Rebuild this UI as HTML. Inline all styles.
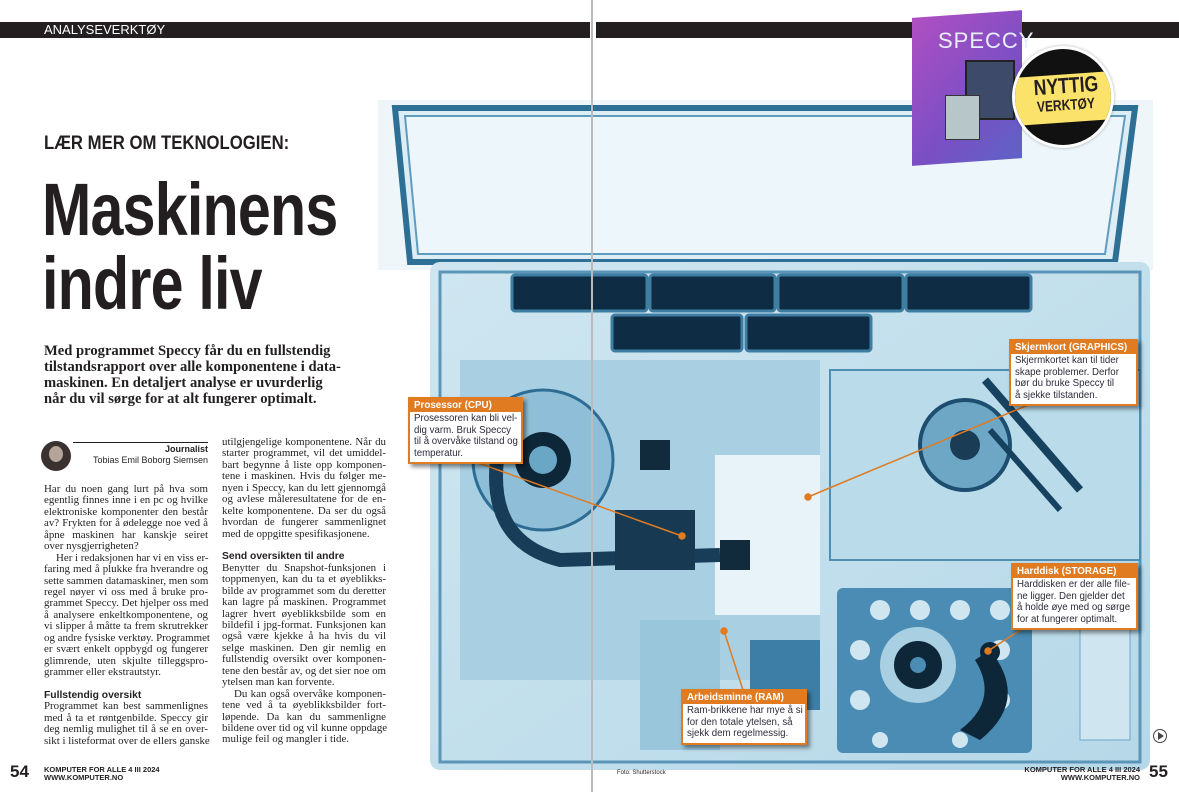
<!DOCTYPE html>
<html><head><meta charset="utf-8">
<style>
*{margin:0;padding:0;box-sizing:border-box}
body{width:1179px;height:792px;position:relative;overflow:hidden;background:#fff;font-family:"Liberation Sans",sans-serif;color:#231f20}
.abs{position:absolute}
.body{font-family:"Liberation Serif",serif;font-size:10.9px;color:#231f20}
.body div{white-space:nowrap;height:11.45px;line-height:11.45px;text-align:justify;text-align-last:justify}
.body div.e{text-align-last:left}
.body div.i{padding-left:12px}
.body div.h{font-family:"Liberation Sans",sans-serif;font-weight:bold;font-size:10.3px;text-align-last:left}
.call{position:absolute;background:#fff;border:2px solid #e07b22;box-shadow:3px 3px 4px rgba(0,0,0,.45);font-size:9.7px;line-height:11.6px;color:#2b2b3a;white-space:nowrap;overflow:hidden}
.call .h{background:#e07b22;color:#fff;font-weight:bold;font-size:9.8px;padding:0 4px;height:13px;line-height:13px}
.call .t{padding:1px 4px 3px 4px}
.sub div{white-space:nowrap}
</style></head><body>

<svg class="abs" style="left:0;top:0" width="1179" height="792">
<defs>
<linearGradient id="bg" x1="0" y1="0" x2="1" y2="1"><stop offset="0" stop-color="#cfe6f1"/><stop offset="1" stop-color="#b6d8e8"/></linearGradient>
</defs>
<rect x="378" y="100" width="775" height="170" fill="#eef6fa"/>
<polygon points="395,108 1135,108 1115,262 410,262" fill="#dcedf5" stroke="#2e6f95" stroke-width="6"/>
<polygon points="405,116 1125,116 1105,254 418,254" fill="#edf6fa" stroke="#5f9cbd" stroke-width="2"/>
<rect x="430" y="262" width="720" height="508" rx="10" fill="url(#bg)"/>
<rect x="440" y="272" width="700" height="490" fill="none" stroke="#5b96b8" stroke-width="3"/>
<g fill="#0f2c45" stroke="#3f7ea3" stroke-width="3">
<rect x="512" y="275" width="135" height="36" rx="3"/><rect x="650" y="275" width="125" height="36" rx="3"/><rect x="778" y="275" width="125" height="36" rx="3"/><rect x="906" y="275" width="125" height="36" rx="3"/>
<rect x="612" y="315" width="130" height="36" rx="3"/><rect x="746" y="315" width="125" height="36" rx="3"/>
</g>
<rect x="460" y="360" width="360" height="320" fill="#a9cfe2"/>
<rect x="715" y="455" width="105" height="160" fill="#e7f3f8"/>
<circle cx="543" cy="460" r="70" fill="#8fbfd8" stroke="#2d6d94" stroke-width="3"/>
<circle cx="543" cy="460" r="28" fill="#0d2638"/>
<circle cx="543" cy="460" r="14" fill="#6aa7c7"/>
<path d="M500 440 Q480 540 560 560 L720 555" fill="none" stroke="#173d58" stroke-width="14"/>
<rect x="615" y="510" width="80" height="60" fill="#173a52"/>
<rect x="640" y="440" width="30" height="30" fill="#112a3c"/>
<rect x="720" y="540" width="30" height="30" fill="#112a3c"/>
<rect x="830" y="370" width="310" height="190" fill="#b9dbea" stroke="#4f8db1" stroke-width="2"/>
<circle cx="965" cy="445" r="45" fill="#6ea7c6" stroke="#1d4e6f" stroke-width="4"/>
<circle cx="965" cy="445" r="15" fill="#1a3c55"/>
<line x1="985" y1="380" x2="1080" y2="490" stroke="#17425f" stroke-width="8"/>
<line x1="990" y1="430" x2="1060" y2="510" stroke="#17425f" stroke-width="6"/>
<rect x="837" y="588" width="195" height="165" rx="6" fill="#4a8cb3"/>
<g fill="#cfe6f1"><circle cx="880" cy="610" r="10"/><circle cx="920" cy="610" r="10"/><circle cx="960" cy="610" r="10"/><circle cx="1000" cy="610" r="10"/><circle cx="860" cy="650" r="10"/><circle cx="1000" cy="650" r="10"/><circle cx="860" cy="700" r="10"/><circle cx="1000" cy="700" r="10"/><circle cx="880" cy="740" r="8"/><circle cx="960" cy="740" r="8"/></g>
<circle cx="918" cy="665" r="38" fill="#a9cfe2"/>
<circle cx="918" cy="665" r="24" fill="#0d2638"/>
<circle cx="918" cy="665" r="8" fill="#4a8cb3"/>
<path d="M990 650 Q1030 700 980 740 L960 730 Q1000 700 975 660Z" fill="#0d2638"/>
<circle cx="990" cy="652" r="10" fill="#0d2638"/>
<rect x="640" y="620" width="80" height="130" fill="#9ac6dc"/>
<rect x="750" y="640" width="70" height="70" fill="#3c7ea6"/>
<rect x="1080" y="580" width="50" height="160" fill="#cfe6f1" stroke="#6fa7c6"/>
</svg>

<div class="abs" style="left:0;top:22px;width:590px;height:16px;background:#231f20"></div>
<div class="abs" style="left:596px;top:22px;width:583px;height:16px;background:#231f20"></div>
<div class="abs" style="left:44px;top:22px;height:16px;line-height:16px;color:#fff;font-size:13px">ANALYSEVERKTØY</div>
<div class="abs" style="left:591px;top:0;width:2px;height:792px;background:#bbb"></div>

<div class="abs" style="left:912px;top:14px;width:110px;height:148px;background:linear-gradient(135deg,#b04fc2,#7a4fc4 60%,#5e63c7);transform:skewY(-4deg)"></div>
<div class="abs" style="left:938px;top:28px;color:#e8f0ff;font-size:22px;letter-spacing:1px">SPECCY</div>
<div class="abs" style="left:965px;top:60px;width:50px;height:60px;background:#3d4a6a;border:2px solid #222"></div>
<div class="abs" style="left:945px;top:95px;width:35px;height:45px;background:#b7c6c8;border:1px solid #333"></div>
<div class="abs" style="left:1012px;top:46px;width:102px;height:102px;border-radius:50%;background:#111;border:3px solid #fff;overflow:hidden;box-shadow:0 0 3px rgba(0,0,0,.3)">
<div style="position:absolute;left:-10px;top:25px;width:130px;height:48px;background:#fbe36b;transform:rotate(-4deg)"></div>
<div style="position:absolute;left:8px;top:26px;width:86px;text-align:center;font-weight:bold;font-size:22px;line-height:22px;transform:rotate(-4deg) scaleX(.8)">NYTTIG</div>
<div style="position:absolute;left:8px;top:49px;width:86px;text-align:center;font-weight:bold;font-size:15px;line-height:16px;transform:rotate(-4deg) scaleX(.8)">VERKTØY</div>
</div>

<div class="abs" style="left:44px;top:133px;font-weight:bold;font-size:19px;transform:scaleX(.88);transform-origin:0 0;white-space:nowrap">LÆR MER OM TEKNOLOGIEN:</div>
<div class="abs" style="left:42px;top:173px;font-weight:bold;font-size:74px;line-height:74px;transform:scaleX(.8);transform-origin:0 0;white-space:nowrap;letter-spacing:-1px">Maskinens<br>indre liv</div>
<div class="abs sub" style="left:44px;top:343px;font-family:'Liberation Serif',serif;font-weight:bold;font-size:14.6px;line-height:16px">
<div>Med programmet Speccy får du en fullstendig</div>
<div>tilstandsrapport over alle komponentene i data-</div>
<div>maskinen. En detaljert analyse er uvurderlig</div>
<div>når du vil sørge for at alt fungerer optimalt.</div>
</div>

<div class="abs" style="left:41px;top:441px;width:30px;height:30px;border-radius:50%;background:#3a3230"></div>
<div class="abs" style="left:49px;top:446px;width:14px;height:16px;border-radius:50%;background:#b5a49a"></div>
<div class="abs" style="left:73px;top:442px;width:135px;border-top:1px solid #231f20;text-align:right;font-size:9px;line-height:11px;padding-top:1px"><b>Journalist</b><br>Tobias Emil Boborg Siemsen</div>

<div class="abs body" style="left:44px;top:484px;width:164px">
<div>Har du noen gang lurt på hva som</div>
<div>egentlig finnes inne i en pc og hvilke</div>
<div>elektroniske komponenter den består</div>
<div>av? Frykten for å ødelegge noe ved å</div>
<div>åpne maskinen har kanskje seiret</div>
<div class="e">over nysgjerrigheten?</div>
<div class="i">Her i redaksjonen har vi en viss er-</div>
<div>faring med å plukke fra hverandre og</div>
<div>sette sammen datamaskiner, men som</div>
<div>regel nøyer vi oss med å bruke pro-</div>
<div>grammet Speccy. Det hjelper oss med</div>
<div>å analysere enkeltkomponentene, og</div>
<div>vi slipper å måtte ta frem skrutrekker</div>
<div>og andre fysiske verktøy. Programmet</div>
<div>er svært enkelt oppbygd og fungerer</div>
<div>glimrende, uten skjulte tilleggspro-</div>
<div class="e">grammer eller ekstrautstyr.</div>
<div class="e"></div>
<div class="h">Fullstendig oversikt</div>
<div>Programmet kan best sammenlignes</div>
<div>med å ta et røntgenbilde. Speccy gir</div>
<div>deg nemlig mulighet til å se en over-</div>
<div>sikt i listeformat over de ellers ganske</div>
</div>

<div class="abs body" style="left:222px;top:437px;width:164px">
<div>utilgjengelige komponentene. Når du</div>
<div>starter programmet, vil det umiddel-</div>
<div>bart begynne å liste opp komponen-</div>
<div>tene i maskinen. Hvis du følger me-</div>
<div>nyen i Speccy, kan du lett gjennomgå</div>
<div>og avlese måleresultatene for de en-</div>
<div>kelte komponentene. Da ser du også</div>
<div>hvordan de fungerer sammenlignet</div>
<div class="e">med de oppgitte spesifikasjonene.</div>
<div class="e"></div>
<div class="h">Send oversikten til andre</div>
<div>Benytter du Snapshot-funksjonen i</div>
<div>toppmenyen, kan du ta et øyeblikks-</div>
<div>bilde av programmet som du deretter</div>
<div>kan lagre på maskinen. Programmet</div>
<div>lagrer hvert øyeblikksbilde som en</div>
<div>bildefil i jpg-format. Funksjonen kan</div>
<div>også være kjekke å ha hvis du vil</div>
<div>selge maskinen. Den gir nemlig en</div>
<div>fullstendig oversikt over komponen-</div>
<div>tene den består av, og det sier noe om</div>
<div class="e">ytelsen man kan forvente.</div>
<div class="i">Du kan også overvåke komponen-</div>
<div>tene ved å ta øyeblikksbilder fort-</div>
<div>løpende. Da kan du sammenligne</div>
<div>bildene over tid og vil kunne oppdage</div>
<div class="e">mulige feil og mangler i tide.</div>
</div>

<svg class="abs" style="left:0;top:0" width="1179" height="792">
<g stroke="#e07b22" stroke-width="1.5" fill="#e07b22">
<line x1="470" y1="460" x2="682" y2="536"/><circle cx="682" cy="536" r="3"/>
<line x1="1040" y1="400" x2="808" y2="497"/><circle cx="808" cy="497" r="3"/>
<line x1="1028" y1="625" x2="988" y2="651"/><circle cx="988" cy="651" r="3"/>
<line x1="743" y1="690" x2="724" y2="631"/><circle cx="724" cy="631" r="3"/>
</g>
</svg>

<div class="call" style="left:408px;top:397px;width:115px"><div class="h">Prosessor (CPU)</div><div class="t">Prosessoren kan bli vel-<br>dig varm. Bruk Speccy<br>til å overvåke tilstand og<br>temperatur.</div></div>
<div class="call" style="left:1009px;top:339px;width:129px"><div class="h">Skjermkort (GRAPHICS)</div><div class="t">Skjermkortet kan til tider<br>skape problemer. Derfor<br>bør du bruke Speccy til<br>å sjekke tilstanden.</div></div>
<div class="call" style="left:1011px;top:563px;width:127px"><div class="h">Harddisk (STORAGE)</div><div class="t">Harddisken er der alle file-<br>ne ligger. Den gjelder det<br>å holde øye med og sørge<br>for at fungerer optimalt.</div></div>
<div class="call" style="left:681px;top:689px;width:126px"><div class="h">Arbeidsminne (RAM)</div><div class="t">Ram-brikkene har mye å si<br>for den totale ytelsen, så<br>sjekk dem regelmessig.</div></div>

<div class="abs" style="left:1153px;top:729px;width:14px;height:14px;border:1.5px solid #444;border-radius:50%"></div>
<div class="abs" style="left:1158px;top:732px;width:0;height:0;border-left:6px solid #444;border-top:4px solid transparent;border-bottom:4px solid transparent"></div>

<div class="abs" style="left:10px;top:762px;font-weight:bold;font-size:17px">54</div>
<div class="abs" style="left:44px;top:766px;font-weight:bold;font-size:7.5px;line-height:8px;white-space:nowrap">KOMPUTER FOR ALLE 4 III 2024<br>WWW.KOMPUTER.NO</div>
<div class="abs" style="left:617px;top:770px;font-size:6px">Foto: Shutterstock</div>
<div class="abs" style="left:1000px;top:766px;width:140px;text-align:right;font-weight:bold;font-size:7.5px;line-height:8px;white-space:nowrap">KOMPUTER FOR ALLE 4 III 2024<br>WWW.KOMPUTER.NO</div>
<div class="abs" style="left:1149px;top:762px;font-weight:bold;font-size:17px">55</div>
</body></html>
